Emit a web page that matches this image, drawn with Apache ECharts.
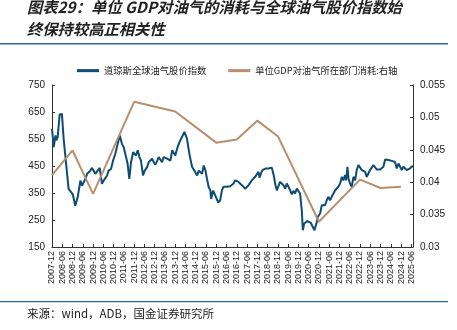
<!DOCTYPE html>
<html><head><meta charset="utf-8">
<script src="https://cdn.jsdelivr.net/npm/echarts@6/dist/echarts.min.js"></script>
<style>html,body{margin:0;padding:0;background:#fff}#c{width:457px;height:330px}</style>
</head><body><div id="c"></div>
<script>
var xLabels = ['2007-12','2008-06','2008-12','2009-06','2009-12','2010-06','2010-12','2011-06','2011-12','2012-06','2012-12','2013-06','2013-12','2014-06','2014-12','2015-06','2015-12','2016-06','2016-12','2017-06','2017-12','2018-06','2018-12','2019-06','2019-12','2020-06','2020-12','2021-06','2021-12','2022-06','2022-12','2023-06','2023-12','2024-06','2024-12','2025-06'];
var seriesNames = ['道琼斯全球油气股价指数','单位GDP对油气所在部门消耗:右轴'];
// months since 2007-12
var blueMonths = [0,1,2,2.5,3.3,4.5,5.8,6.8,7.8,9.7,10.7,12.1,13.6,15,16.6,17.5,18.5,19.5,20.5,22.4,23.4,25.3,26.3,27.9,29.2,30.2,31.2,32.2,33.1,34.5,35.7,37,38.4,39.6,40.9,41.9,42.9,44.2,45.2,46.2,47.4,48.1,49.1,50.1,51.1,52,53.2,54.2,55.6,56.5,57.5,58.5,59.5,60.4,61.4,62.4,63.4,64.3,65.3,66.3,67.3,68.2,69.2,70.2,71.2,72.1,73.1,74.1,75,76,77.4,78.4,78.9,80.3,81.9,83.2,84.8,85.8,86.7,87.7,88.7,89.7,90.6,91.6,92.6,93,94.2,94.9,95.9,97.1,98.3,99.3,100.2,101.2,102.2,103.2,104.1,105.1,106.1,107.1,108,109,110,111,111.9,112.9,113.9,114.9,115.8,116.8,117.8,118.7,119.7,120.7,121.3,122.1,123,124,125,126.5,127.5,128.5,129.1,129.8,130.4,131.4,132.4,133.3,134.3,135.3,136.3,137.2,138.2,139.2,140.2,141.1,142.1,143.1,144.1,145,146,146.6,147.4,148.1,149.3,150.3,151.3,152.4,153.4,154.2,154.8,155.3,156.7,157.7,158.7,159.6,160.6,161.6,162.5,163.5,164.5,165.5,166.4,167.4,168.4,169.4,170.3,171.3,171.9,172.7,173.3,174.2,175.2,176.2,177.2,178.1,179.1,180.1,181.1,182,183,184,184.9,185.9,186.9,187.9,188.8,189.8,190.8,191.8,192.7,193.7,194.7,195.6,196.6,197.6,198.6,199.5,200.5,201.5,202.5,203.4,204.4,205.4,206.4,207.3,208.3,209.3,210.3,211];
var blueValues = [588,520,563,545,557,641,643,551,545,365,359,346,303,334,396,377,390,402,421,433,443,421,427,443,384,396,390,415,433,439,470,495,532,563,532,520,514,458,402,464,501,495,489,508,483,470,415,433,446,464,468,477,464,455,468,483,473,464,483,477,477,483,470,508,510,489,514,532,545,551,576,572,551,495,446,433,415,433,439,421,452,433,402,371,359,328,359,365,334,315,323,360,373,366,373,370,375,379,385,397,404,391,385,379,373,366,366,379,385,397,404,410,416,428,407,422,435,428,441,441,437,444,428,410,385,360,354,391,397,379,366,385,373,360,345,358,348,366,360,348,286,212,237,243,246,243,239,237,212,206,243,261,274,305,311,305,323,336,323,336,336,360,354,373,385,410,397,416,397,447,404,385,373,410,397,435,453,447,435,441,428,410,416,435,441,453,459,437,435,437,435,447,474,478,472,469,469,474,465,441,459,465,435,447,453,435,428,441,449,447];
var brownMonths = [0,12,24,48,72,96,108,120,132,156,180,192,204];
var brownValues = [0.0411,0.0449,0.0382,0.0524,0.0509,0.0461,0.0466,0.0495,0.0471,0.0339,0.0404,0.0391,0.0393];
var leftTicks = {min:150,max:750,interval:100};
var rightTicks = {min:0.03,max:0.055,interval:0.005};

function pairs(xs, ys){ return xs.map(function(x,i){return [x, ys[i]];}); }

var chart = echarts.init(document.getElementById('c'), null, {renderer:'canvas'});
var axisCol = '#333';
chart.setOption({
  animation:false,
  textStyle:{fontFamily:'"Liberation Sans", Arial, sans-serif'},
  graphic:[
    {type:'text', left:27, top:0, style:{text:'图表29：单位 GDP对油气的消耗与全球油气股价指数始', font:'italic bold 15.3px "Noto Sans CJK SC"', fill:'#222'}},
    {type:'text', left:27, top:22, style:{text:'终保持较高正相关性', font:'italic bold 15.3px "Noto Sans CJK SC"', fill:'#222'}},
    {type:'rect', left:0, top:43, shape:{width:448, height:1.5}, style:{fill:'#2f6b96'}},
    {type:'rect', left:0, top:301, shape:{width:448, height:1.2}, style:{fill:'#2f6b96'}},
    {type:'text', left:27, top:308, style:{text:'来源：wind，ADB，国金证券研究所', font:'11.5px "Noto Sans CJK SC"', fill:'#222'}}
  ],
  legend:{
    left:72, top:61, itemWidth:22, itemHeight:3, itemGap:22, icon:'rect',
    textStyle:{fontSize:9.3, color:'#222', fontFamily:'"Noto Sans CJK SC"'},
    data:seriesNames
  },
  grid:{left:52, right:44, top:85, bottom:83},
  xAxis:{
    type:'value', min:0, max:211, interval:6,
    axisLine:{lineStyle:{color:axisCol}},
    axisTick:{inside:true, length:3, lineStyle:{color:axisCol}},
    splitLine:{show:false},
    axisLabel:{rotate:90, fontSize:9, color:'#222', margin:4, showMaxLabel:false,
      formatter:function(v){ var i=Math.round(v/6); return (v%6===0 && xLabels[i]) ? xLabels[i] : ''; }}
  },
  yAxis:[
    {type:'value', min:leftTicks.min, max:leftTicks.max, interval:leftTicks.interval,
     axisLine:{show:true, lineStyle:{color:axisCol}},
     axisTick:{show:true, inside:true, length:3, lineStyle:{color:axisCol}},
     splitLine:{show:false},
     axisLabel:{fontSize:10, color:'#222', margin:7}},
    {type:'value', min:rightTicks.min, max:rightTicks.max, interval:rightTicks.interval,
     axisLine:{show:true, lineStyle:{color:axisCol}},
     axisTick:{show:true, inside:true, length:3, lineStyle:{color:axisCol}},
     splitLine:{show:false},
     axisLabel:{fontSize:10, color:'#222', margin:7,
       formatter:function(v){ return String(parseFloat(v.toFixed(4))); }}}
  ],
  series:[
    {name:seriesNames[0], type:'line', yAxisIndex:0, data:pairs(blueMonths, blueValues),
     showSymbol:false, lineStyle:{color:'#0d4c73', width:2}, itemStyle:{color:'#0d4c73'}},
    {name:seriesNames[1], type:'line', yAxisIndex:1, data:pairs(brownMonths, brownValues),
     showSymbol:false, lineStyle:{color:'#b98e6e', width:2}, itemStyle:{color:'#b98e6e'}}
  ]
});
</script>
</body></html>
